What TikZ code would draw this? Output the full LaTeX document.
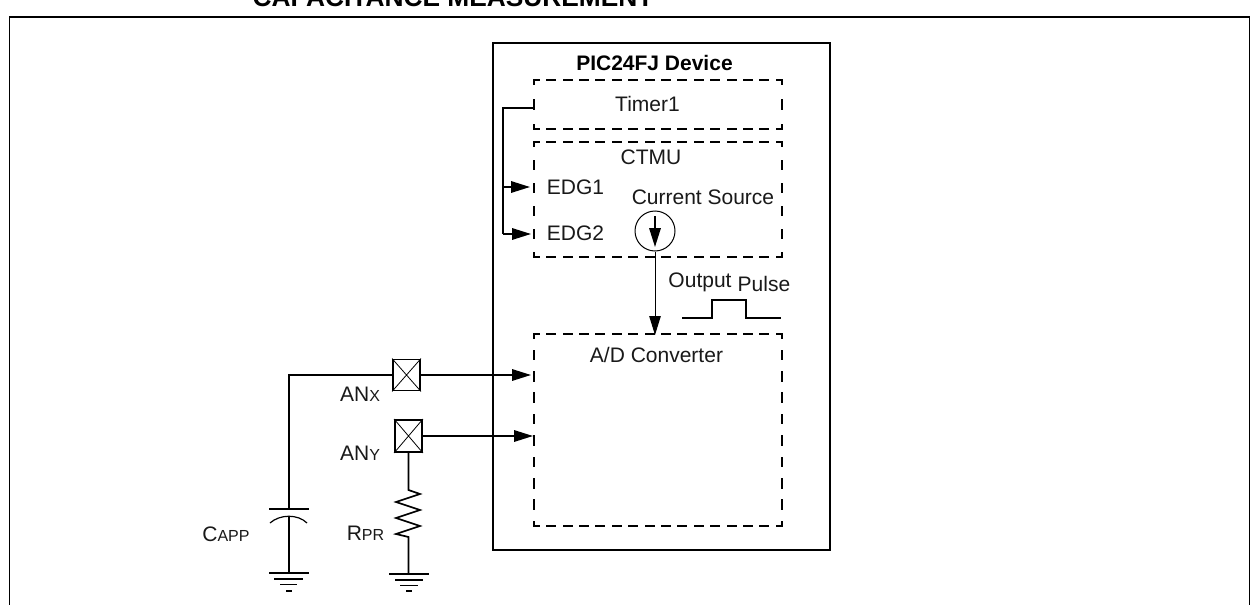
\documentclass[tikz,border=0pt]{standalone}
\usepackage{fontspec}
\setmainfont{Liberation Sans}
\usetikzlibrary{arrows.meta}
\newcommand{\sm}[1]{{\fontsize{16}{16}\selectfont #1}}
\tikzset{
  wire/.style={draw=black,line width=1.7pt},
  thinwire/.style={draw=black,line width=1pt},
  arrowed/.style={-{Triangle[length=19pt,width=11.5pt]}},
  solidbox/.style={draw=black,line width=1.9pt,rectangle,inner sep=0pt,fill=none},
  dashframe/.style={rectangle,inner sep=0pt,minimum width=248pt},
  dashside/.style={draw=black,line width=1.7pt,line cap=rect},
  dashh/.style={dashside,dash pattern=on 8.4pt off 8pt,dash phase=3.2pt},
  dashvt/.style={dashside,dash pattern=on 9.4pt off 15.6pt,dash phase=5.2pt},
  dashvc/.style={dashside,dash pattern=on 8.4pt off 14.6pt,dash phase=4.2pt},
  dashva/.style={dashside,dash pattern=on 8.9pt off 12.49pt,dash phase=4.7pt},
  lbl/.style={inner sep=0pt,font=\fontsize{21}{24}\selectfont,text=black!90},
  boldlbl/.style={inner sep=0pt,font=\fontsize{21}{24}\selectfont\bfseries,text=black},
  titlelbl/.style={inner sep=0pt,font=\fontsize{26.3}{30}\selectfont\bfseries,text=black},
  padbox/.style={draw=black,line width=1.9pt,rectangle,inner sep=0pt,minimum width=27pt},
  padx/.style={draw=black,line width=0.8pt},
  gnd/.style={draw=black,line width=1.7pt}
}
\begin{document}
\begin{tikzpicture}[x=1pt,y=-1pt]
\useasboundingbox (0,0) rectangle (1259,605);
\clip (0,0) rectangle (1259,605);
\fill[white] (0,0) rectangle (1259,605);
% title, cut by the top edge as in the reference
\node[titlelbl,anchor=base] (title) at (453,6) {CAPACITANCE MEASUREMENT};
% outer frame, open below the page edge
\coordinate (fbl) at (9.5,610);
\coordinate (ftl) at (9.5,17);
\coordinate (ftr) at (1249.5,17);
\coordinate (fbr) at (1249.5,610);
\draw[solidbox] (fbl) -- (ftl) -- (ftr) -- (fbr);
% device
\node[solidbox,minimum width=337pt,minimum height=507pt] (device) at (661.5,296.5) {};
\node[boldlbl] (devlbl) at (654.5,63) {PIC24FJ Device};
% dashed blocks
\node[dashframe,minimum height=49pt] (timer) at (658,104.5) {};
\draw[dashh] (timer.north west) -- (timer.north east);
\draw[dashh] (timer.south west) -- (timer.south east);
\draw[dashvt] (timer.north west) -- (timer.south west);
\draw[dashvt] (timer.north east) -- (timer.south east);
\node[lbl] (timerlbl) at (647.5,104) {Timer1};
\node[dashframe,minimum height=115pt] (ctmu) at (658,199.5) {};
\draw[dashh] (ctmu.north west) -- (ctmu.north east);
\draw[dashh] (ctmu.south west) -- (ctmu.south east);
\draw[dashvc] (ctmu.north west) -- (ctmu.south west);
\draw[dashvc] (ctmu.north east) -- (ctmu.south east);
\node[lbl] (ctmulbl) at (651,157) {CTMU};
\node[dashframe,minimum height=192pt] (adc) at (658,430) {};
\draw[dashh] (adc.north west) -- (adc.north east);
\draw[dashh] (adc.south west) -- (adc.south east);
\draw[dashva] (adc.north west) -- (adc.south west);
\draw[dashva] (adc.north east) -- (adc.south east);
\node[lbl] (adclbl) at (656.5,355) {A/D Converter};
\node[lbl] (edg1) at (575.5,187.5) {EDG1};
\node[lbl] (edg2) at (575.5,233.5) {EDG2};
\node[lbl] (cs) at (703,197) {Current Source};
\node[lbl] (out) at (700,282) {Output};
\node[lbl] (pulse) at (764,284) {Pulse};
% edge wires
\coordinate (t1) at (534,108);
\coordinate (bus1) at (503,108);
\coordinate (bus2) at (503,187);
\coordinate (bus3) at (503,234);
\coordinate (e1) at (530,187);
\coordinate (e2) at (531,234);
\draw[wire] (t1) -- (bus1) -- (bus3);
\draw[wire,arrowed] (bus2) -- (e1);
\draw[wire,arrowed] (bus3) -- (e2);
% current source
\node[draw=black,line width=1pt,circle,minimum size=40pt,inner sep=0pt] (src) at (655,231) {};
\coordinate (srctop) at (655,216);
\coordinate (srctip) at (655,247);
\draw[wire,arrowed] (srctop) -- (srctip);
\coordinate (adctip) at (655,335);
\draw[thinwire,arrowed] (src.south) -- (adctip);
% pulse
\coordinate (p1) at (682,318);
\coordinate (p2) at (712,318);
\coordinate (p3) at (712,300);
\coordinate (p4) at (746,300);
\coordinate (p5) at (746,318);
\coordinate (p6) at (781,318);
\draw[wire] (p1) -- (p2) -- (p3) -- (p4) -- (p5) -- (p6);
% pads
\node[padbox,minimum height=31pt] (anx) at (406.5,375) {};
\draw[padx] (anx.north west) -- (anx.south east) (anx.north east) -- (anx.south west);
\node[padbox,minimum height=32pt] (any) at (408.5,436) {};
\draw[padx] (any.north west) -- (any.south east) (any.north east) -- (any.south west);
\node[lbl] (anxlbl) at (360,394) {AN\sm{X}};
\node[lbl] (anylbl) at (360,453) {AN\sm{Y}};
\coordinate (ax) at (531,375);
\coordinate (ay) at (533,436);
\draw[wire,arrowed] (anx.east) -- (ax);
\draw[wire,arrowed] (any.east) -- (ay);
% capacitor
\coordinate (c0) at (289,375);
\coordinate (c1) at (289,509);
\coordinate (c2) at (289,516);
\coordinate (g1) at (289,573);
\draw[wire] (anx.west) -- (c0) -- (c1);
\draw[wire] (269,509) -- (309,509);
\draw[wire,line width=1.2pt] (270,523) .. controls (280,514) and (298,514) .. (307,523);
\draw[wire] (c2) -- (g1);
\draw[gnd] (269,573) -- (309,573) (274,579) -- (303,579) (280,584.5) -- (297,584.5) (286,591) -- (292,591);
\node[lbl] (capp) at (226,534) {C\sm{APP}};
% resistor
\coordinate (r1) at (408.5,574);
\draw[wire,line join=miter] (any.south) -- (408.5,490) -- (420,494) -- (396,502) -- (420,510) -- (396,518) -- (420,526) -- (396,534) -- (408.5,537) -- (r1);
\draw[gnd] (389,574) -- (429,574) (395,580) -- (423,580) (400,585.5) -- (418,585.5) (406,591) -- (412,591);
\node[lbl] (rpr) at (365.5,533) {R\sm{PR}};
\end{tikzpicture}
\end{document}
